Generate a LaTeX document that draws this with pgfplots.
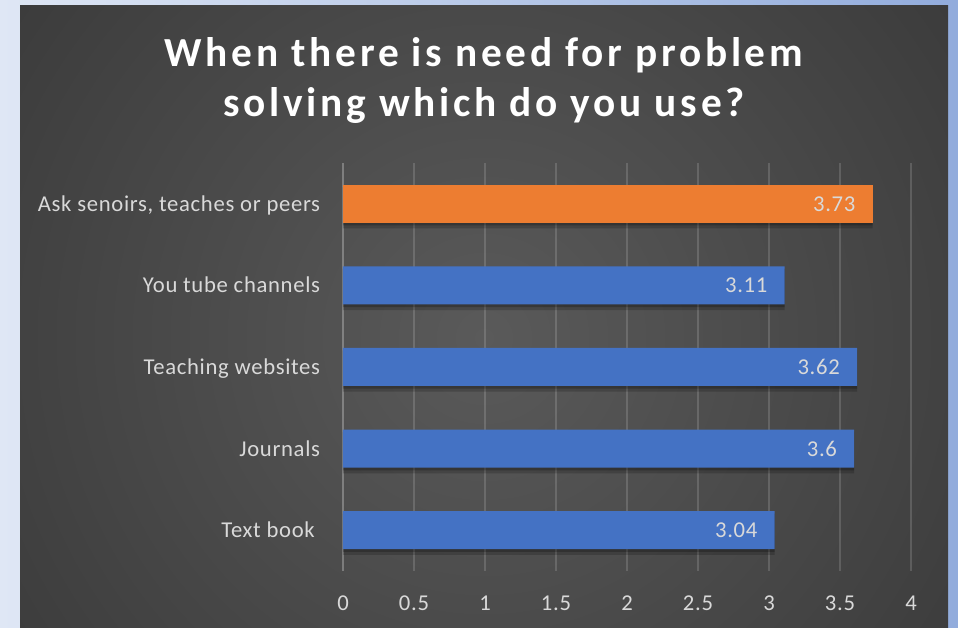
\documentclass[border=0pt]{standalone}
\usepackage{fontspec}
\setmainfont{Carlito}
\newfontfamily\titlefont[LetterSpace=9]{Carlito}
\newfontfamily\lblfont[LetterSpace=3]{Carlito}
\usepackage{pgfplots}
\pgfplotsset{compat=1.18}
\definecolor{frameL}{HTML}{DFE7F5}
\definecolor{frameR}{HTML}{92ACDC}
\definecolor{bgA}{HTML}{5A5A5A}
\definecolor{bgB}{HTML}{1D1D1D}
\definecolor{barBlue}{HTML}{4472C4}
\definecolor{barOrange}{HTML}{ED7D31}
\definecolor{lbl}{HTML}{D9D9D9}
\definecolor{axln}{HTML}{A6A6A6}
\pgfdeclareradialshading{darkbg}{\pgfpoint{0bp}{0bp}}{color(0bp)=(bgA); color(50bp)=(bgB)}
\begin{document}
\begin{tikzpicture}[x=0.75pt,y=0.75pt]
\shade[left color=frameL, right color=frameR] (0,0) rectangle (958,628);
\begin{scope}
\clip (20,0) rectangle (948,622);
\shade[shading=darkbg] (484,290) circle (580);
\end{scope}
\tikzset{ttl/.style={anchor=base, inner sep=0pt, text=white, font=\titlefont\bfseries\fontsize{31}{37}\selectfont}}
\node[ttl] at (484,561) {When there is need for problem};
\node[ttl] at (484,511) {solving which do you use?};
\begin{axis}[
  at={(257.25pt,42.75pt)}, anchor=south west,
  scale only axis, width=426pt, height=306pt,
  xmin=0, xmax=4, ymin=-0.5, ymax=4.5,
  xbar, bar width=28.5pt, bar shift=0pt,
  axis line style={draw=none},
  major tick length=0pt,
  xtick={0,0.5,1,1.5,2,2.5,3,3.5,4},
  ytick={0,1,2,3,4},
  yticklabels={Text book\hspace*{4pt},Journals,Teaching websites,You tube channels,{Ask senoirs, teaches or peers}},
  xmajorgrids, ymajorgrids=false,
  major grid style={draw=white, draw opacity=0.15, line width=1pt},
  extra x ticks={0}, extra x tick labels={},
  extra x tick style={grid style={draw=axln, draw opacity=1, line width=1.5pt}},
  /pgf/number format/assume math mode=true,
  tick label style={text=lbl, font=\lblfont\fontsize{17}{20}\selectfont},
  xticklabel style={anchor=base, yshift=-30pt},
  yticklabel style={anchor=base east, inner sep=0pt, xshift=-17pt, yshift=-5.6pt},
  every node near coord/.append style={anchor=base east, inner sep=0pt, xshift=-12.75pt, yshift=-5.6pt, text=lbl, font=\lblfont\fontsize{17}{20}\selectfont},
]
\addplot[fill=black, fill opacity=0.18, draw=none, bar width=31pt, bar shift=-3pt] coordinates {(3.04,0) (3.6,1) (3.62,2) (3.11,3) (3.73,4)};
\addplot[fill=black, fill opacity=0.22, draw=none, bar shift=-2pt] coordinates {(3.04,0) (3.6,1) (3.62,2) (3.11,3) (3.73,4)};
\addplot[fill=barBlue, draw=none, nodes near coords] coordinates {(3.04,0) (3.6,1) (3.62,2) (3.11,3)};
\addplot[fill=barOrange, draw=none, nodes near coords] coordinates {(3.73,4)};
\end{axis}
\end{tikzpicture}
\end{document}
